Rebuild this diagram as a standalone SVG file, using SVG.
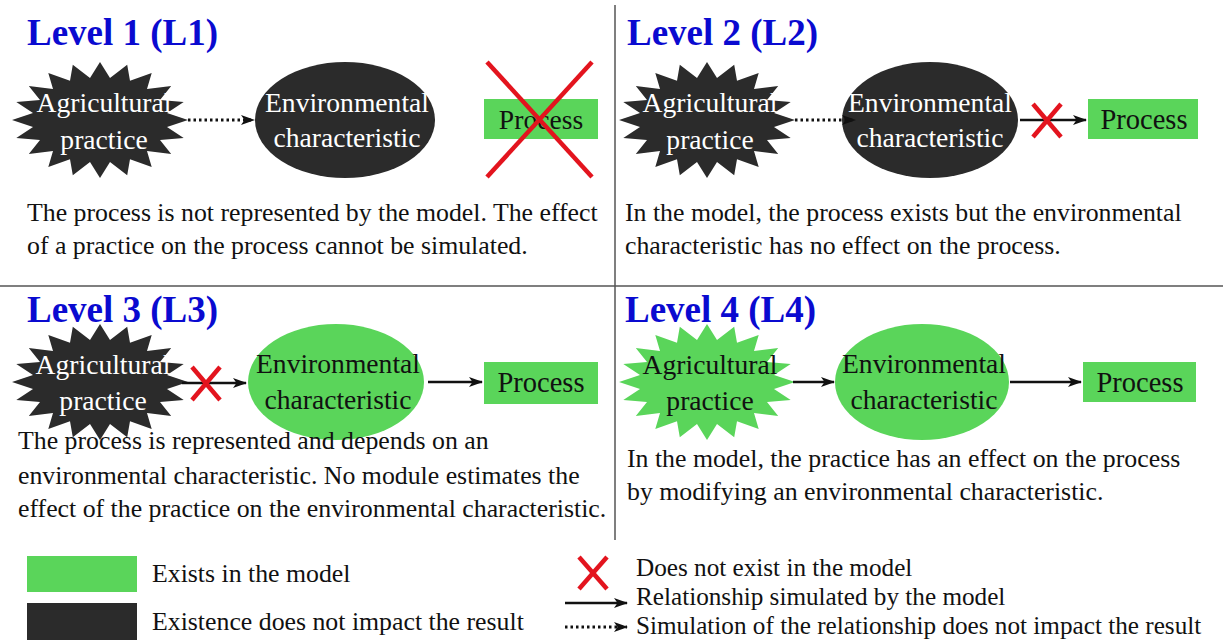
<svg xmlns="http://www.w3.org/2000/svg" xmlns:xlink="http://www.w3.org/1999/xlink" width="1223" height="640" viewBox="0 0 1223 640">
<style>
text{font-family:"Liberation Serif","Times New Roman",Tinos,"Nimbus Roman","DejaVu Serif",serif}
.title{font-weight:bold;font-size:37px;fill:#0a0ad0}
.lbl{font-size:27.6px;text-anchor:middle}
.w{fill:#ffffff}
.k{fill:#111111}
.desc{font-size:25.8px;fill:#111111}
.leg{font-size:25.8px;fill:#111111}
.leg2{font-size:25.2px;fill:#111111}
.dark{fill:#2b2b2b}
.green{fill:#5ad55a}
.line{stroke:#111111;stroke-width:2.5;fill:none}
.dot{stroke:#111111;stroke-width:3;fill:none;stroke-dasharray:2.5 3}
.cross{stroke:#e3141e;stroke-width:4.5;fill:none}
.div{stroke:#555555;stroke-width:1.5}
</style>
<defs>
<marker id="ah" viewBox="0 0 14 10" refX="13" refY="5" markerWidth="14" markerHeight="10" markerUnits="userSpaceOnUse" orient="auto">
<path d="M0,0 L14,5 L0,10 L3.5,5 Z" fill="#111111"/>
</marker>
<path id="star" d="M88,0 L67,6.9 L83.7,17.9 L60,20 L71.2,34.1 L47,31.1 L51.7,46.9 L30,39.2 L27.2,55.2 L10,42 L0,58 L-10,42 L-27.2,55.2 L-30,39.2 L-51.7,46.9 L-47,31.1 L-71.2,34.1 L-60,20 L-83.7,17.9 L-67,6.9 L-88,0 L-67,-6.9 L-83.7,-17.9 L-60,-20 L-71.2,-34.1 L-47,-31.1 L-51.7,-46.9 L-30,-39.2 L-27.2,-55.2 L-10,-42 L0,-58 L10,-42 L27.2,-55.2 L30,-39.2 L51.7,-46.9 L47,-31.1 L71.2,-34.1 L60,-20 L83.7,-17.9 L67,-6.9 Z"/>
</defs>
<rect width="1223" height="640" fill="#ffffff"/>

<g id="dividers">
<line class="div" x1="615" y1="5" x2="615" y2="540"/>
<line class="div" x1="0" y1="286" x2="1223" y2="286"/>
</g>

<g id="titles">
<text class="title" x="27" y="45">Level 1 (L1)</text>
<text class="title" x="627" y="45">Level 2 (L2)</text>
<text class="title" x="27" y="322">Level 3 (L3)</text>
<text class="title" x="625" y="322">Level 4 (L4)</text>
</g>

<!-- Level 1 -->
<g id="l1-practice">
<use xlink:href="#star" href="#star" class="dark" transform="translate(100,120)"/>
<text class="lbl w" x="104" y="112">Agricultural</text>
<text class="lbl w" x="104" y="149">practice</text>
</g>
<g id="l1-env">
<ellipse class="dark" cx="345" cy="120" rx="90" ry="58"/>
<text class="lbl w" x="347" y="112">Environmental</text>
<text class="lbl w" x="347" y="147">characteristic</text>
</g>
<g id="l1-process">
<rect class="green" x="484" y="99" width="114" height="40"/>
<text class="lbl k" x="541" y="129" style="font-size:27.6px">Process</text>
<line class="cross" x1="487" y1="62" x2="592" y2="177"/>
<line class="cross" x1="592" y1="62" x2="487" y2="177"/>
</g>
<text class="desc" x="27" y="221">The process is not represented by the model. The effect</text>
<text class="desc" x="27" y="254">of a practice on the process cannot be simulated.</text>

<!-- Level 2 -->
<g id="l2-practice">
<use xlink:href="#star" href="#star" class="dark" transform="translate(707,120)"/>
<text class="lbl w" x="710" y="112">Agricultural</text>
<text class="lbl w" x="710" y="149">practice</text>
</g>
<g id="l2-env">
<ellipse class="dark" cx="930" cy="120" rx="88" ry="58"/>
<text class="lbl w" x="930" y="112">Environmental</text>
<text class="lbl w" x="930" y="147">characteristic</text>
</g>
<g id="l2-process">
<rect class="green" x="1088" y="99" width="110" height="40"/>
<text class="lbl k" x="1144" y="129" style="font-size:28.5px">Process</text>
</g>
<text class="desc" x="625" y="221">In the model, the process exists but the environmental</text>
<text class="desc" x="625" y="254">characteristic has no effect on the process.</text>

<!-- Level 3 -->
<g id="l3-practice">
<use xlink:href="#star" href="#star" class="dark" transform="translate(100,382)"/>
<text class="lbl w" x="103" y="374">Agricultural</text>
<text class="lbl w" x="103" y="410">practice</text>
</g>
<g id="l3-env">
<ellipse class="green" cx="336" cy="382" rx="88" ry="58"/>
<text class="lbl k" x="338" y="373">Environmental</text>
<text class="lbl k" x="338" y="409">characteristic</text>
</g>
<g id="l3-process">
<rect class="green" x="484" y="362" width="114" height="42"/>
<text class="lbl k" x="541" y="392" style="font-size:28.5px">Process</text>
</g>
<text class="desc" x="18" y="449">The process is represented and depends on an</text>
<text class="desc" x="18" y="484">environmental characteristic. No module estimates the</text>
<text class="desc" x="18" y="517">effect of the practice on the environmental characteristic.</text>

<!-- Level 4 -->
<g id="l4-practice">
<use xlink:href="#star" href="#star" class="green" transform="translate(707,382)"/>
<text class="lbl k" x="710" y="374">Agricultural</text>
<text class="lbl k" x="710" y="410">practice</text>
</g>
<g id="l4-env">
<ellipse class="green" cx="922" cy="382" rx="87" ry="58"/>
<text class="lbl k" x="924" y="373">Environmental</text>
<text class="lbl k" x="924" y="409">characteristic</text>
</g>
<g id="l4-process">
<rect class="green" x="1083" y="362" width="113" height="40"/>
<text class="lbl k" x="1140" y="392" style="font-size:28.5px">Process</text>
</g>
<text class="desc" x="627" y="467">In the model, the practice has an effect on the process</text>
<text class="desc" x="627" y="500">by modifying an environmental characteristic.</text>

<g id="connectors">
<line class="dot" x1="188" y1="120" x2="254" y2="120" marker-end="url(#ah)"/>
<line class="dot" x1="795" y1="120" x2="855" y2="120" marker-end="url(#ah)"/>
<line class="line" x1="1020" y1="120" x2="1086" y2="120" marker-end="url(#ah)"/>
<line class="line" x1="182" y1="383" x2="246" y2="383" marker-end="url(#ah)"/>
<line class="line" x1="428" y1="382" x2="482" y2="382" marker-end="url(#ah)"/>
<line class="line" x1="793" y1="382" x2="834" y2="382" marker-end="url(#ah)"/>
<line class="line" x1="1010" y1="382" x2="1081" y2="382" marker-end="url(#ah)"/>
</g>

<g id="crosses">
<line class="cross" x1="1033" y1="104" x2="1061" y2="137"/>
<line class="cross" x1="1061" y1="104" x2="1033" y2="137"/>
<line class="cross" x1="192" y1="367" x2="220" y2="400"/>
<line class="cross" x1="220" y1="367" x2="192" y2="400"/>
</g>

<g id="legend">
<rect class="green" x="27" y="556" width="110" height="36"/>
<rect class="dark" x="27" y="603" width="110" height="37"/>
<text class="leg" x="152" y="582">Exists in the model</text>
<text class="leg" x="152" y="630">Existence does not impact the result</text>
<line class="cross" x1="579" y1="557" x2="607" y2="589"/>
<line class="cross" x1="607" y1="557" x2="579" y2="589"/>
<text class="leg2" x="636" y="576">Does not exist in the model</text>
<line class="line" x1="565" y1="603" x2="627" y2="603" marker-end="url(#ah)"/>
<text class="leg2" x="636" y="605">Relationship simulated by the model</text>
<line class="dot" x1="565" y1="627" x2="627" y2="627" marker-end="url(#ah)"/>
<text class="leg2" x="636" y="634">Simulation of the relationship does not impact the result</text>
</g>
</svg>
